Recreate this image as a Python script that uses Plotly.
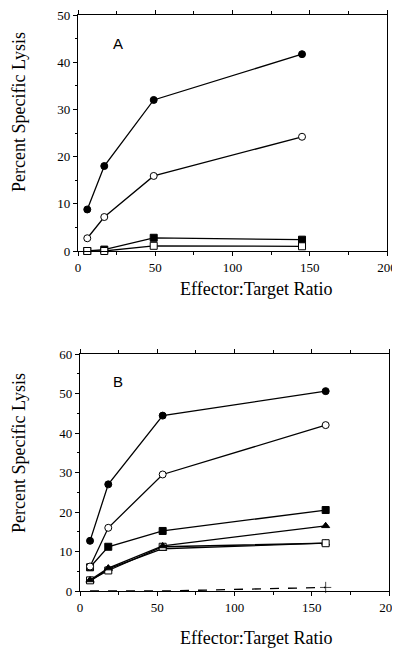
import plotly.graph_objects as go

# ---------------- data ----------------
A_x = [6, 17, 49, 145]
A_filled_circle = [8.8, 18.0, 32.0, 41.7]
A_open_circle = [2.7, 7.2, 15.9, 24.2]
A_filled_square = [0.0, 0.3, 2.8, 2.4]
A_open_square = [0.0, 0.0, 1.1, 1.0]

B_x = [6.5, 18.3, 53.5, 159]
B_filled_circle = [12.7, 27.0, 44.4, 50.6]
B_open_circle = [6.2, 16.0, 29.5, 42.0]
B_filled_square = [6.0, 11.2, 15.2, 20.5]
B_filled_triangle = [2.8, 5.8, 11.4, 16.5]
B_open_square = [2.7, 5.2, 11.2, 12.1]
B_open_triangle = [2.5, 5.6, 10.7, 12.1]
B_dashed_plus = [0.0, 0.0, 0.0, 0.9]

x_tickvals = [0, 50, 100, 150, 200]
x_ticktext = ["0", "50", "100", "150", "200"]
A_ytickvals = [0, 10, 20, 30, 40, 50]
B_ytickvals = [0, 10, 20, 30, 40, 50, 60]

SERIF = "Times New Roman, Liberation Serif, serif"
SANS = "Arial, Liberation Sans, sans-serif"

fig = go.Figure()


def add(x, y, symbol, filled, xa, ya, dash="solid", sizes=None):
    fig.add_trace(go.Scatter(
        x=x, y=y, mode="lines+markers", xaxis=xa, yaxis=ya,
        line=dict(color="black", width=1.3, dash=dash),
        marker=dict(symbol=symbol, size=sizes if sizes is not None else 7,
                    color="black" if filled else "white",
                    line=dict(color="black", width=1)),
        cliponaxis=False, showlegend=False, hoverinfo="skip"))


# Panel A
add(A_x, A_filled_square, "square", True, "x", "y")
add(A_x, A_open_square, "square", False, "x", "y")
add(A_x, A_open_circle, "circle", False, "x", "y")
add(A_x, A_filled_circle, "circle", True, "x", "y")

# Panel B
add(B_x, B_dashed_plus, "cross-thin", False, "x2", "y2", dash="dash", sizes=[0, 0, 0, 8])
add(B_x, B_filled_square, "square", True, "x2", "y2")
add(B_x, B_open_triangle, "triangle-up", False, "x2", "y2")
add(B_x, B_open_square, "square", False, "x2", "y2")
add(B_x, B_filled_triangle, "triangle-up", True, "x2", "y2")
add(B_x, B_open_circle, "circle", False, "x2", "y2")
add(B_x, B_filled_circle, "circle", True, "x2", "y2")

# page has an 8px body margin: figure is 392x644 and positions are page px - 8
OFF = 8.0
W = 400.0 - OFF
H = 652.0 - OFF


def px(x):
    return (x - OFF) / W


def py(y):
    return (H - (y - OFF)) / H


xcommon = dict(range=[0, 200], tickvals=x_tickvals, ticktext=x_ticktext,
               ticks="outside", ticklen=4, tickwidth=1, tickcolor="black",
               minor=dict(dtick=25, tick0=0, ticks="outside", ticklen=3, tickcolor="black"),
               showline=True, linecolor="black", linewidth=1.2, mirror="ticks",
               showgrid=False, zeroline=False, automargin=False,
               ticklabeloverflow="allow",
               tickfont=dict(family=SERIF, size=13, color="black"))
ycommon = dict(ticks="outside", ticklen=4, tickwidth=1, tickcolor="black",
               minor=dict(dtick=5, tick0=0, ticks="outside", ticklen=2, tickcolor="black"),
               showline=True, linecolor="black", linewidth=1.2, mirror=True,
               showgrid=False, zeroline=False, automargin=False,
               ticklabeloverflow="allow",
               tickfont=dict(family=SERIF, size=13, color="black"))

fig.update_layout(
    template="none",
    width=int(W), height=int(H),
    margin=dict(l=0, r=0, t=0, b=0),
    font=dict(family=SERIF, color="black"),
    paper_bgcolor="white", plot_bgcolor="white",
    xaxis=dict(domain=[px(78), px(387)], anchor="y", **xcommon),
    yaxis=dict(domain=[py(251), py(15)], anchor="x", range=[0, 50],
               tickvals=A_ytickvals, **ycommon),
    xaxis2=dict(domain=[px(80), px(389)], anchor="y2", **xcommon),
    yaxis2=dict(domain=[py(591), py(354)], anchor="x2", range=[0, 60],
                tickvals=B_ytickvals, **ycommon),
)

annos = [
    dict(text="A", x=px(118), y=py(43), xanchor="center", font=dict(family=SANS, size=15)),
    dict(text="B", x=px(118), y=py(381), xanchor="center", font=dict(family=SANS, size=15)),
    dict(text="Percent Specific Lysis", x=0, y=py(112), xanchor="left", textangle=-90,
         borderpad=0, font=dict(family=SERIF, size=18)),
    dict(text="Percent Specific Lysis", x=0, y=py(453), xanchor="left", textangle=-90,
         borderpad=0, font=dict(family=SERIF, size=18)),
    dict(text="Effector:Target Ratio", x=px(256), y=py(289), xanchor="center",
         font=dict(family=SERIF, size=18)),
    dict(text="Effector:Target Ratio", x=px(256), y=py(638), xanchor="center",
         font=dict(family=SERIF, size=18)),
]
for a in annos:
    a.update(xref="paper", yref="paper", showarrow=False, yanchor="middle")
    a["font"]["color"] = "black"
fig.update_layout(annotations=annos)

fig.write_html("out.html")
